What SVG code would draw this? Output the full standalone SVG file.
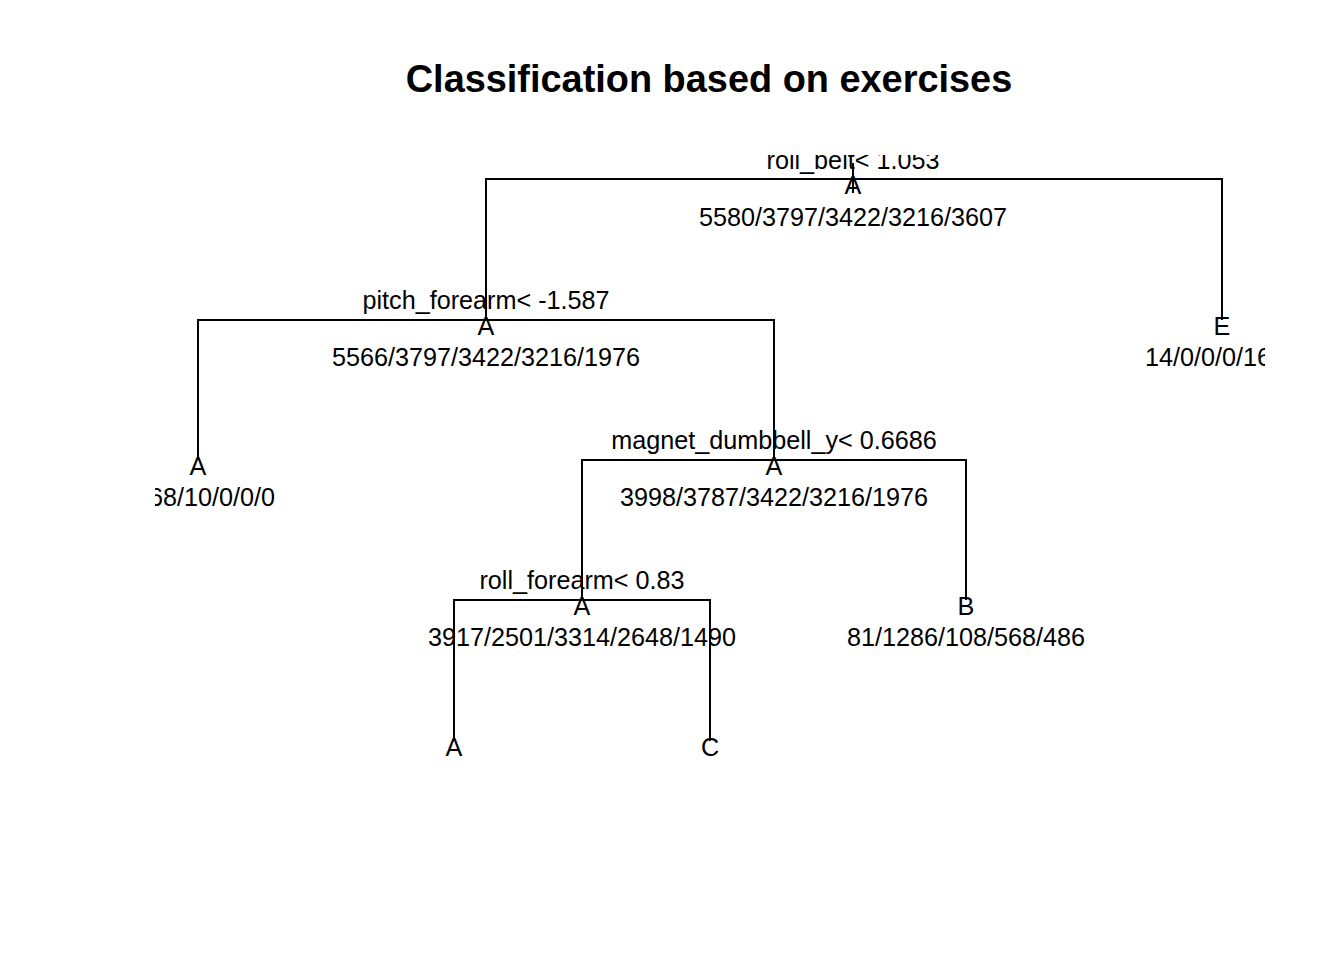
<svg xmlns="http://www.w3.org/2000/svg" width="1344" height="960" viewBox="0 0 1344 960">
<defs>
<style>
text{font-family:"Liberation Sans",Arial,sans-serif;font-size:25.2px;fill:#000;text-anchor:middle}
.title{font-size:37.9px;font-weight:bold}
.e{stroke:#000;stroke-width:2;fill:none}
</style>
<clipPath id="plot"><rect x="155" y="155" width="1110" height="607"/></clipPath>
</defs>
<rect width="1344" height="960" fill="#fff"/>
<text class="title" x="709" y="92">Classification based on exercises</text>
<g clip-path="url(#plot)">
<g id="connectors" class="e">
<path d="M853 163V193"/>
<path d="M486 320V179H1222V320"/>
<path d="M198 460V320H774V460"/>
<path d="M582 600V460H966V600"/>
<path d="M454 741V600H710V741"/>
</g>
<g id="n1"><text x="853" y="169">roll_belt&lt; 1.053</text><text x="853" y="194">A</text><text x="853" y="226">5580/3797/3422/3216/3607</text></g>
<g id="n2"><text x="486" y="309">pitch_forearm&lt; -1.587</text><text x="486" y="335">A</text><text x="486" y="366">5566/3797/3422/3216/1976</text></g>
<g id="n3"><text x="1222" y="335">E</text><text x="1222" y="366">14/0/0/0/1631</text></g>
<g id="n4"><text x="198" y="475">A</text><text x="198" y="506">1568/10/0/0/0</text></g>
<g id="n5"><text x="774" y="449">magnet_dumbbell_y&lt; 0.6686</text><text x="774" y="475">A</text><text x="774" y="506">3998/3787/3422/3216/1976</text></g>
<g id="n6"><text x="582" y="589">roll_forearm&lt; 0.83</text><text x="582" y="615">A</text><text x="582" y="646">3917/2501/3314/2648/1490</text></g>
<g id="n7"><text x="966" y="615">B</text><text x="966" y="646">81/1286/108/568/486</text></g>
<g id="n8"><text x="454" y="756">A</text></g>
<g id="n9"><text x="710" y="756">C</text></g>
</g>
</svg>
